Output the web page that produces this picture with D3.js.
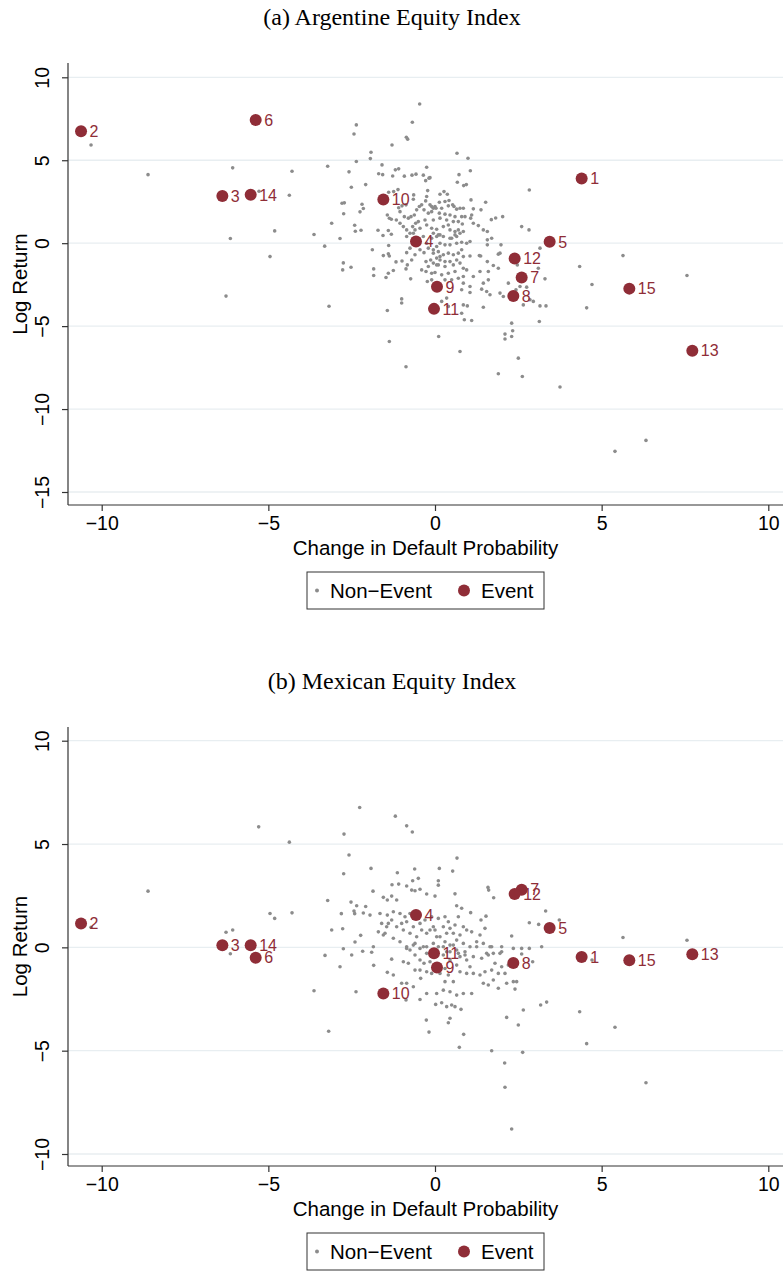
<!DOCTYPE html>
<html><head><meta charset="utf-8">
<script src="https://cdn.jsdelivr.net/npm/d3@7"></script>
<style>body{margin:0;background:#fff}svg{display:block}</style>
</head><body>
<svg id="chart" width="783" height="1275"></svg>
<script>
// ---------- DATA ----------
const xTicks = [-10, -5, 0, 5, 10];
const xTickLabels = ["\u221210", "\u22125", "0", "5", "10"];
const yTicksA = [-15, -10, -5, 0, 5, 10];
const yTickLabelsA = ["\u221215", "\u221210", "\u22125", "0", "5", "10"];
const yTicksB = [-10, -5, 0, 5, 10];
const yTickLabelsB = ["\u221210", "\u22125", "0", "5", "10"];
const titles = ["(a) Argentine Equity Index", "(b) Mexican Equity Index"];
const xLabel = "Change in Default Probability";
const yLabel = "Log Return";
const legendLabels = ["Non\u2212Event", "Event"];

const eventIds = [1,2,3,4,5,6,7,8,9,10,11,12,13,14,15];
const eventX  = [4.40, -10.62, -6.38, -0.57, 3.44, -5.38, 2.60, 2.35, 0.06, -1.55, -0.03, 2.39, 7.72, -5.53, 5.83];
const eventYA = [3.90, 6.75, 2.85, 0.10, 0.08, 7.42, -2.07, -3.18, -2.63, 2.63, -3.96, -0.93, -6.48, 2.92, -2.74];
const eventYB = [-0.47, 1.15, 0.10, 1.57, 0.94, -0.50, 2.79, -0.76, -0.97, -2.23, -0.29, 2.58, -0.33, 0.10, -0.62];

const nonEventA = [
[-10.32,5.92],[-8.61,4.13],[-6.07,4.54],[-4.29,4.34],[-5.28,3.13],[-4.37,2.89],[-4.81,0.74],[-6.14,0.28],[-4.95,-0.81],[-6.27,-3.19],
[5.64,-0.75],[4.34,-1.41],[4.71,-2.49],[4.55,-3.90],[7.56,-1.95],[3.75,-8.67],[6.33,-11.89],[5.40,-12.55],
[-0.46,8.39],[-2.36,7.13],[-2.43,6.58],[-0.68,7.29],[-0.86,6.39],[-0.82,6.27],[-1.29,5.92],[-1.92,5.48],[-1.94,5.10],[-2.36,4.92],[-3.22,4.64],[-1.59,4.72],[-2.58,4.30],[-1.19,4.42],[-1.09,4.48],[-1.69,4.19],[-1.57,4.13],[-1.27,4.05],[-0.92,4.04],[-0.69,4.10],[-0.57,4.16],[-0.25,4.58],[-0.35,4.10],[-0.18,3.92],[-0.28,3.77],[-2.51,3.37],[-2.08,3.53],[-1.11,3.23],[-1.39,3.07],[-1.24,3.11],[-0.22,3.17],[-0.64,2.91],[-0.65,2.65],[-0.28,2.55],[-0.25,2.81],[-2.79,2.41],[-2.72,2.43],[-2.19,2.35],[-2.15,2.09],[-2.25,1.89],[-2.74,1.77],[-3.10,1.20],[-3.63,0.52],[-2.85,0.28],[-2.41,1.08],[-2.22,0.78],[-2.39,0.72],[-1.71,0.78],[-1.56,0.46],[-1.31,0.54],[-1.40,0.76],[-1.43,1.70],[-1.37,1.50],[-1.31,1.44],
[-1.09,2.14],[-0.99,2.25],[-0.87,2.31],[-1.05,1.90],[-0.92,1.60],[-0.80,1.51],[-0.72,1.60],[-0.62,1.70],[-0.55,2.01],[-0.47,2.21],[-0.40,2.31],[-0.50,1.30],[-0.58,1.20],[-0.67,1.00],[-0.95,1.00],[-0.85,0.80],[-0.75,0.60],[-0.60,0.80],[-0.45,0.90],[-0.30,1.40],[-0.20,1.81],[-0.10,1.90],[-0.05,2.11],[0.00,2.21],[-0.15,2.31],[-0.33,2.01],[-0.25,1.10],[-0.10,0.90],[-0.05,0.60],[-1.05,1.20],[-1.16,1.40],
[0.66,5.42],[0.99,5.12],[1.06,4.37],[0.72,4.13],[0.67,3.67],[0.86,3.47],[0.94,3.53],[-0.15,3.95],[2.83,3.21],[0.27,3.11],[0.37,2.95],[0.15,2.95],[1.08,2.61],[1.52,2.47],
[0.13,2.47],[0.30,2.51],[0.42,2.57],[0.53,2.31],[-0.10,2.21],[0.03,2.11],[0.20,2.11],[0.40,2.25],[0.57,2.21],[0.65,2.05],[0.75,2.11],[0.85,2.11],[1.15,2.07],[1.38,2.01],[0.13,1.81],[0.30,1.75],[0.45,1.70],[0.60,1.60],[0.80,1.60],[0.90,1.60],[1.10,1.70],[1.07,1.51],[-0.05,1.40],[0.15,1.51],[0.35,1.40],[0.55,1.30],[0.70,1.30],[0.82,1.16],[0.25,1.00],[0.40,1.10],[0.05,0.84],[0.15,0.50],[0.45,0.80],[0.60,0.70],[0.70,0.80],[0.85,0.70],[1.15,1.20],[1.30,1.06],[1.45,0.80],[1.57,0.70],[1.69,1.42],[1.82,1.52],[2.03,1.60],[2.60,1.00],[2.82,0.80],[1.70,0.30],[0.65,0.40],[0.50,0.30],
[-3.31,-0.18],[-1.88,-0.40],[-1.39,-0.14],[-1.55,-0.75],[-1.40,-0.64],[-1.37,-0.77],[-2.75,-1.19],[-2.77,-1.61],[-2.52,-1.45],[-1.84,-1.55],[-1.84,-1.95],[-1.40,-1.81],[-1.47,-2.07],[-1.25,-1.65],
[-1.17,-1.13],[-0.99,-1.07],[-0.83,-1.31],[-0.87,-1.55],[-0.70,-1.01],[-0.60,-0.70],[-0.85,-0.57],[-0.75,-0.30],[-0.45,-0.40],[-0.33,-0.57],[-0.27,-1.11],[-0.13,-1.01],[-0.05,-1.20],[0.05,-0.90],[-0.20,-1.41],[-0.40,-1.61],[-0.27,-1.71],[-0.10,-1.81],[0.00,-1.77],[0.10,-1.31],[0.15,-0.81],[-0.05,-0.60],[-0.20,-0.30],[0.05,-0.20],[-0.25,0.00],[-0.35,0.40],[-0.10,0.30],[0.10,0.50],[-0.65,0.60],[-0.85,0.40],[-0.73,-2.15],[-0.23,-2.31],[-0.10,-2.21],
[-1.00,-3.36],[-1.00,-3.61],[-3.18,-3.80],[-1.43,-4.06],[0.11,-5.63],[-1.37,-5.93],[-0.87,-7.45],
[1.98,-0.10],[1.57,0.20],[1.57,-0.10],[1.05,0.10],[0.95,0.00],[0.80,0.06],[0.65,0.00],[0.45,-0.10],[0.30,-0.10],[0.15,0.00],[0.05,0.40],[0.25,0.40],[0.45,0.30],[0.60,0.50],[0.75,0.60],
[0.80,-0.40],[0.70,-0.60],[0.55,-0.70],[0.40,-0.60],[0.25,-0.70],[0.10,-0.51],[-0.05,-0.40],[0.85,-0.81],[0.65,-1.01],[0.45,-1.11],[0.30,-1.11],[0.15,-1.01],[0.05,-1.31],[0.30,-1.41],[0.55,-1.31],[0.75,-1.20],[0.85,-1.51],[0.60,-1.71],[0.40,-1.81],[0.20,-1.91],[1.05,-0.77],[1.33,-0.75],[1.37,-0.77],[1.57,-1.11],[1.90,-0.66],[1.95,-0.60],[1.90,-1.51],[1.75,-1.35],[1.60,-1.71],[1.35,-1.71],[1.15,-2.01],[0.95,-1.61],[0.85,-2.01],[0.70,-2.11],[0.50,-2.21],[0.30,-2.21],[0.85,-2.41],[1.05,-2.61],[0.80,-2.81],[1.05,-2.97],[1.45,-2.41],[1.60,-2.21],[1.40,-2.77],[1.55,-2.91],[1.65,-3.11],[1.95,-3.01],[2.05,-3.21],[2.20,-2.41],[2.25,-3.11],[2.43,-2.81],[2.55,-2.61],[2.75,-2.65],[2.85,-3.41],[2.65,-3.72],[2.95,-3.51],[3.15,-3.78],[3.33,-3.78],[3.30,-2.15],[3.10,-1.51],[3.15,-0.30],[2.47,-1.31],[0.35,-3.31],[0.20,-3.51],[0.40,-3.81],[0.85,-3.72],[0.97,-3.78],[0.80,-4.22],[0.88,-4.62],[1.10,-4.66],[1.45,-3.86],[2.30,-4.82],[2.33,-5.28],[2.10,-5.48],[2.10,-5.78],[2.30,-5.63],[2.50,-6.93],[1.90,-7.87],[2.62,-8.04],[0.75,-6.53],[3.13,-4.72]
];

const nonEventB = [
[-10.32,0.97],[-8.61,2.72],[-5.29,5.83],[-4.37,5.09],[-4.29,1.67],[-4.95,1.64],[-4.81,1.40],[-6.27,0.73],[-6.07,0.84],[-6.14,-0.31],
[-2.26,6.77],[-1.19,6.35],[-0.85,5.88],[-0.68,5.58],[-2.73,5.48],[-2.58,4.47],[-2.74,3.56],[-1.92,3.82],[-1.13,3.61],[-0.61,3.79],[0.13,3.82],
[-1.29,3.03],[-1.09,3.06],[-0.85,2.97],[-0.67,3.22],[-0.50,3.34],[-0.70,2.77],[-0.60,2.74],[-0.45,2.81],[-0.25,2.58],[0.00,2.48],[0.10,3.22],[0.10,3.01],[-1.86,2.72],[-3.22,2.27],[-2.52,2.19],[-2.35,2.01],[-2.08,1.98],[-2.43,1.76],[-2.41,1.63],[-2.81,1.63],[-2.15,1.66],[-1.95,1.56],[-3.10,0.84],[-2.77,0.90],[-2.23,0.58],[-2.40,0.26],[-2.75,-0.07],[-3.30,-0.39],[-2.50,-0.37],[-2.17,-0.19],[-1.90,-0.24],[-1.85,0.03],[-1.65,1.64],[-1.55,2.42],[-1.43,2.29],[-1.30,2.48],[-1.15,2.29],[-1.43,1.56],[-1.25,1.72],[-1.05,1.64],[-1.60,1.16],[-1.40,1.16],[-1.50,0.68],[-1.45,1.00],[-1.30,1.32],[-1.15,1.00],[-1.00,1.16],[-0.90,1.48],[-0.75,1.64],[-0.85,1.24],[-0.95,0.84],[-0.75,0.68],[-0.55,0.51],[-0.40,0.84],[-0.25,0.68],[-0.65,1.00],[-0.45,1.16],[-0.30,1.32],[-0.10,1.48],[-0.05,1.00],[-0.15,0.84],[0.05,0.51],[-0.60,0.19],[-0.85,0.03],[-1.05,0.27],[-0.75,-0.13],[-0.45,-0.05],[-0.25,0.03],[-0.05,0.19],[0.10,0.03],[-1.25,0.44],[-1.55,0.60],[-1.70,0.75],
[0.66,4.32],[0.53,3.69],[1.59,2.90],[1.61,2.77],[1.76,2.40],[0.60,2.59],[0.65,2.01],[0.80,1.89],[1.07,1.68],[3.32,1.76],[3.73,1.32],[2.83,1.19],[3.11,1.11],[2.30,0.55],[1.38,1.32],[1.53,1.51],
[0.10,1.40],[0.30,1.48],[0.40,1.24],[0.25,1.00],[0.45,0.92],[0.60,1.08],[0.70,1.48],[0.85,1.00],[0.95,0.84],[1.10,0.75],[0.75,0.60],[0.55,0.68],[0.35,0.68],[0.15,0.51],[0.00,0.84],[0.30,0.27],[0.45,0.11],[0.65,0.35],[0.85,0.19],[1.05,0.03],[1.35,0.60],[1.45,0.19],[1.25,0.27],[1.50,0.92],[1.65,0.03],[1.75,-0.29],[2.00,0.03],[2.00,-0.21],[2.35,-0.05],[2.60,-0.05],[2.83,-0.05],[3.20,0.03],[1.55,-0.29],[1.15,-0.45],[0.90,-0.37],[0.70,-0.29],[0.45,-0.21],[0.25,-0.37],
[-2.85,-0.94],[-1.84,-0.87],[-1.30,-0.57],[-1.43,-1.21],[-1.25,-1.34],[-3.63,-2.10],[-2.37,-2.15],[-3.19,-4.06],
[-0.85,-0.05],[-0.65,0.11],[-0.35,0.03],[-0.25,-0.29],[-0.95,-0.70],[-0.80,-0.77],[-0.60,-0.37],[-0.45,-0.61],[-0.33,-0.77],[-0.15,-0.70],[0.25,0.03],[0.35,-0.21],[0.55,0.11],[0.65,-0.13],[0.75,-0.45],[0.90,-0.21],[0.95,-0.61],[1.05,-0.94],[1.15,-1.26],[0.95,-1.26],[0.75,-1.18],[0.65,-0.86],[0.45,-0.61],[0.30,-1.02],[0.40,-1.34],[0.55,-1.66],[0.30,-1.66],[0.15,-1.26],[-0.10,-1.26],[-0.25,-1.18],[-0.45,-1.10],[-0.60,-1.10],[-0.43,-1.50],[-0.85,-1.74],[-1.00,-1.74],[-0.65,-1.91],[-0.25,-2.23],[0.05,-2.23],[0.25,-2.07],[0.45,-2.15],[0.65,-2.31],[0.85,-2.23],[1.10,-2.23],[1.35,-1.34],[1.50,-1.18],[1.70,-1.10],[1.90,-1.26],[2.10,-1.26],[1.45,-1.74],[1.60,-1.82],[1.75,-1.58],[1.90,-1.98],[2.15,-1.74],[2.35,-1.66],[2.45,-1.66],[2.40,-2.02],[2.20,-0.86],[2.00,-0.94],[1.80,-0.77],[1.60,-0.37],[1.40,-0.53],[1.25,0.03],[1.70,0.03],[1.95,-0.29],[2.60,-0.32],[2.93,-0.70],[0.50,-2.79],[0.60,-2.87],[0.78,-3.00],[0.02,-2.76],[0.20,-2.68],[0.35,-2.87],[-0.45,-2.52],[-0.87,-2.55],[0.45,-3.43],[0.40,-3.65],[-0.26,-3.52],[-0.18,-4.10],[0.86,-4.21],[0.73,-4.84],[1.70,-5.00],[2.09,-5.60],[2.10,-6.77],[2.30,-8.79],[2.63,-5.08],[2.15,-3.39],[2.50,-3.76],[2.65,-3.03],[3.17,-2.79],[3.35,-2.65],
[5.64,0.48],[7.56,0.34],[4.71,-0.61],[4.34,-3.12],[5.40,-3.87],[4.55,-4.66],[6.33,-6.55]
];

// ---------- STYLE / LAYOUT ----------
const SANS = "'Liberation Sans', Arial, Helvetica, sans-serif";
const SERIF = "'Liberation Serif', 'Times New Roman', Times, serif";
const GRAY = "#8c8c8c";
const MAROON = "#8f2d37";
const GRID = "#e8eef1";
const AXIS = "#333";

const svg = d3.select("#chart");
const x = d3.scaleLinear().domain([-10, 10]).range([101.7, 768.3]);
const plotLeft = 68, plotRight = 783;

const panels = [
  { title: titles[0], titleY: 25, top: 63, axisY: 505,
    y: d3.scaleLinear().domain([-15, 10]).range([492, 77.3]),
    yTicks: yTicksA, yLabels: yTickLabelsA, pts: nonEventA, ev: eventYA },
  { title: titles[1], titleY: 689, top: 727, axisY: 1166,
    y: d3.scaleLinear().domain([-10, 10]).range([1154, 740.7]),
    yTicks: yTicksB, yLabels: yTickLabelsB, pts: nonEventB, ev: eventYB }
];

panels.forEach(p => {
  const g = svg.append("g");
  const y = p.y;

  g.append("text").attr("x", 392).attr("y", p.titleY)
    .attr("text-anchor", "middle").style("font-family", SERIF).style("font-size", "24px")
    .attr("fill", "#000").text(p.title);

  // gridlines
  g.selectAll(".grid").data(p.yTicks).enter().append("line")
    .attr("x1", plotLeft).attr("x2", plotRight)
    .attr("y1", d => y(d)).attr("y2", d => y(d))
    .attr("stroke", GRID).attr("stroke-width", 1.3);

  // y axis
  const yAxis = d3.axisLeft(y).tickValues(p.yTicks).tickSize(6)
    .tickFormat((d, i) => p.yLabels[i]);
  const ya = g.append("g").attr("transform", `translate(${plotLeft},0)`).call(yAxis);
  ya.select(".domain").remove();
  ya.append("line").attr("x1", 0).attr("x2", 0).attr("y1", p.top).attr("y2", p.axisY)
    .attr("stroke", AXIS).attr("stroke-width", 1.2);
  ya.selectAll(".tick line").attr("stroke", AXIS).attr("stroke-width", 1.2);
  ya.selectAll(".tick text")
    .attr("x", 0).attr("y", 0).attr("dy", null)
    .attr("transform", "translate(-19,0) rotate(-90)")
    .attr("text-anchor", "middle")
    .style("font-family", SANS).style("font-size", "19.5px").attr("fill", "#000");

  // x axis
  const xAxis = d3.axisBottom(x).tickValues(xTicks).tickSize(6)
    .tickFormat((d, i) => xTickLabels[i]);
  const xa = g.append("g").attr("transform", `translate(0,${p.axisY})`).call(xAxis);
  xa.select(".domain").remove();
  xa.append("line").attr("x1", plotLeft).attr("x2", plotRight).attr("y1", 0).attr("y2", 0)
    .attr("stroke", AXIS).attr("stroke-width", 1.2);
  xa.selectAll(".tick line").attr("stroke", AXIS).attr("stroke-width", 1.2);
  xa.selectAll(".tick text").attr("y", 11).attr("dy", "0.71em")
    .style("font-family", SANS).style("font-size", "19.5px").attr("fill", "#000");

  // axis titles
  g.append("text").attr("x", 425.5).attr("y", p.axisY + 50)
    .attr("text-anchor", "middle").style("font-family", SANS).style("font-size", "20.5px")
    .text(xLabel);
  const midY = (p.top + p.axisY) / 2;
  g.append("text").attr("transform", `translate(27,${midY}) rotate(-90)`)
    .attr("text-anchor", "middle").style("font-family", SANS).style("font-size", "20.5px")
    .text(yLabel);

  // non-event points
  g.append("g").selectAll("circle").data(p.pts).enter().append("circle")
    .attr("cx", d => x(d[0])).attr("cy", d => y(d[1])).attr("r", 1.8).attr("fill", GRAY);

  // events
  const evData = eventIds.map((id, i) => ({ id, x: eventX[i], y: p.ev[i] }));
  const eg = g.append("g");
  eg.selectAll("circle").data(evData).enter().append("circle")
    .attr("cx", d => x(d.x)).attr("cy", d => y(d.y)).attr("r", 6).attr("fill", MAROON);
  eg.selectAll("text").data(evData).enter().append("text")
    .attr("x", d => x(d.x) + 8.5).attr("y", d => y(d.y)).attr("dy", "0.36em")
    .style("font-family", SANS).style("font-size", "16px").attr("fill", MAROON)
    .text(d => d.id);

  // legend
  const lt = p.axisY + 67;
  const lg = g.append("g");
  lg.append("rect").attr("x", 307).attr("y", lt).attr("width", 237).attr("height", 37)
    .attr("fill", "#fff").attr("stroke", AXIS).attr("stroke-width", 1);
  lg.append("circle").attr("cx", 317).attr("cy", lt + 18.5).attr("r", 2).attr("fill", GRAY);
  lg.append("text").attr("x", 330).attr("y", lt + 18.5).attr("dy", "0.36em")
    .style("font-family", SANS).style("font-size", "20.5px").text(legendLabels[0]);
  lg.append("circle").attr("cx", 464).attr("cy", lt + 18.5).attr("r", 6).attr("fill", MAROON);
  lg.append("text").attr("x", 481).attr("y", lt + 18.5).attr("dy", "0.36em")
    .style("font-family", SANS).style("font-size", "20.5px").text(legendLabels[1]);
});
</script>
</body></html>
